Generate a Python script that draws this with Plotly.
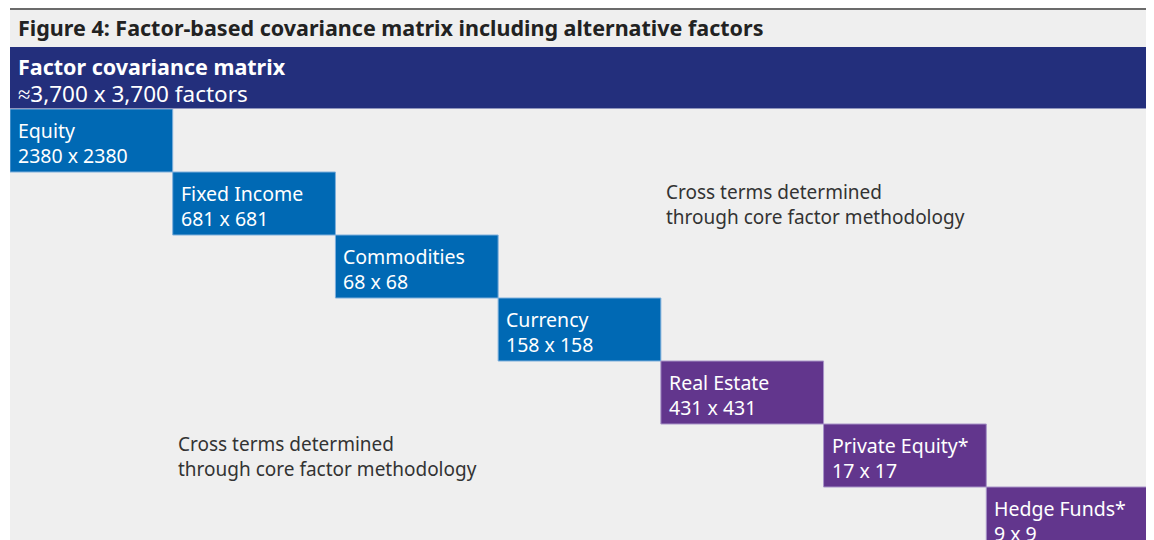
import plotly.graph_objects as go

# ---- data ----
categories = ["Equity", "Fixed Income", "Commodities", "Currency",
              "Real Estate", "Private Equity*", "Hedge Funds*"]
factor_counts = [2380, 681, 68, 158, 431, 17, 9]
groups = ["core", "core", "core", "core", "alt", "alt", "alt"]
total_label = "≈3,700 x 3,700 factors"
title_text = "Figure 4: Factor-based covariance matrix including alternative factors"
header_text = "Factor covariance matrix"
cross_text = "Cross terms determined<br>through core factor methodology"

colors = {"core": "#0069B4", "alt": "#62368D"}
borders = {"core": "#7FB0DC", "alt": "#A894C8"}
FONT = "Noto Sans"

OFF = 8  # page body margin
W, H = 1154 - OFF, 540 - OFF
ML, MR, MT, MB = 10 - OFF, 5, 109 - OFF, 0
PH = H - MT - MB

def py(p):  # page pixel y -> paper y
    return (H - MB - (p - OFF)) / PH

def px(p):
    return (p - OFF - ML) / (W - ML - MR)

fig = go.Figure()
n = len(categories)

fig.add_trace(go.Scatter(x=[0, n], y=[0, n], mode="markers",
                         marker=dict(opacity=0), hoverinfo="skip", showlegend=False))

shapes = []
annotations = []
for i, (cat, cnt, g) in enumerate(zip(categories, factor_counts, groups)):
    shapes.append(dict(type="rect", xref="x", yref="y", x0=i, x1=i + 1, y0=i, y1=i + 1,
                       fillcolor=colors[g], line=dict(color=borders[g], width=1), layer="above"))
    annotations.append(dict(xref="x", yref="y", x=i, y=i, xanchor="left", yanchor="top",
                            xshift=6, yshift=-6, align="left", showarrow=False,
                            text=f"{cat}<br>{cnt} x {cnt}",
                            font=dict(family=FONT, size=19.5, color="white")))

annotations.append(dict(xref="x", yref="y", x=4, y=1, xanchor="left", yanchor="top",
                        xshift=3, yshift=-5, align="left", showarrow=False, text=cross_text,
                        font=dict(family=FONT, size=19, color="#333333")))
annotations.append(dict(xref="x", yref="y", x=1, y=5, xanchor="left", yanchor="top",
                        xshift=3, yshift=-5, align="left", showarrow=False, text=cross_text,
                        font=dict(family=FONT, size=19, color="#333333")))

# header bands
shapes.append(dict(type="rect", xref="paper", yref="paper", x0=0, x1=1,
                   y0=py(47), y1=py(9), fillcolor="#EFEFEF", line=dict(width=0)))
shapes.append(dict(type="line", xref="paper", yref="paper", x0=0, x1=1,
                   y0=py(9), y1=py(9), line=dict(color="#6B6B6B", width=2)))
shapes.append(dict(type="rect", xref="paper", yref="paper", x0=0, x1=1,
                   y0=py(108.5), y1=py(47), fillcolor="#232F7C", line=dict(width=0)))

annotations.append(dict(xref="paper", yref="paper", x=px(16), y=py(27), xanchor="left",
                        yanchor="middle", showarrow=False, text=f"<b>{title_text}</b>",
                        font=dict(family=FONT, size=21.5, color="#222222")))
annotations.append(dict(xref="paper", yref="paper", x=px(16), y=py(67), xanchor="left",
                        yanchor="middle", showarrow=False, text=f"<b>{header_text}</b>",
                        font=dict(family=FONT, size=21.5, color="white")))
annotations.append(dict(xref="paper", yref="paper", x=px(16), y=py(94), xanchor="left",
                        yanchor="middle", showarrow=False, text=total_label,
                        font=dict(family=FONT, size=22.5, color="white")))

fig.update_layout(
    width=W, height=H,
    margin=dict(l=ML, r=MR, t=MT, b=MB, pad=0),
    paper_bgcolor="white", plot_bgcolor="#EFEFEF",
    xaxis=dict(range=[0, n], visible=False, fixedrange=True),
    yaxis=dict(range=[PH / 63.0, 0], visible=False, fixedrange=True),
    shapes=shapes, annotations=annotations, showlegend=False,
)

fig.write_html("out.html")
